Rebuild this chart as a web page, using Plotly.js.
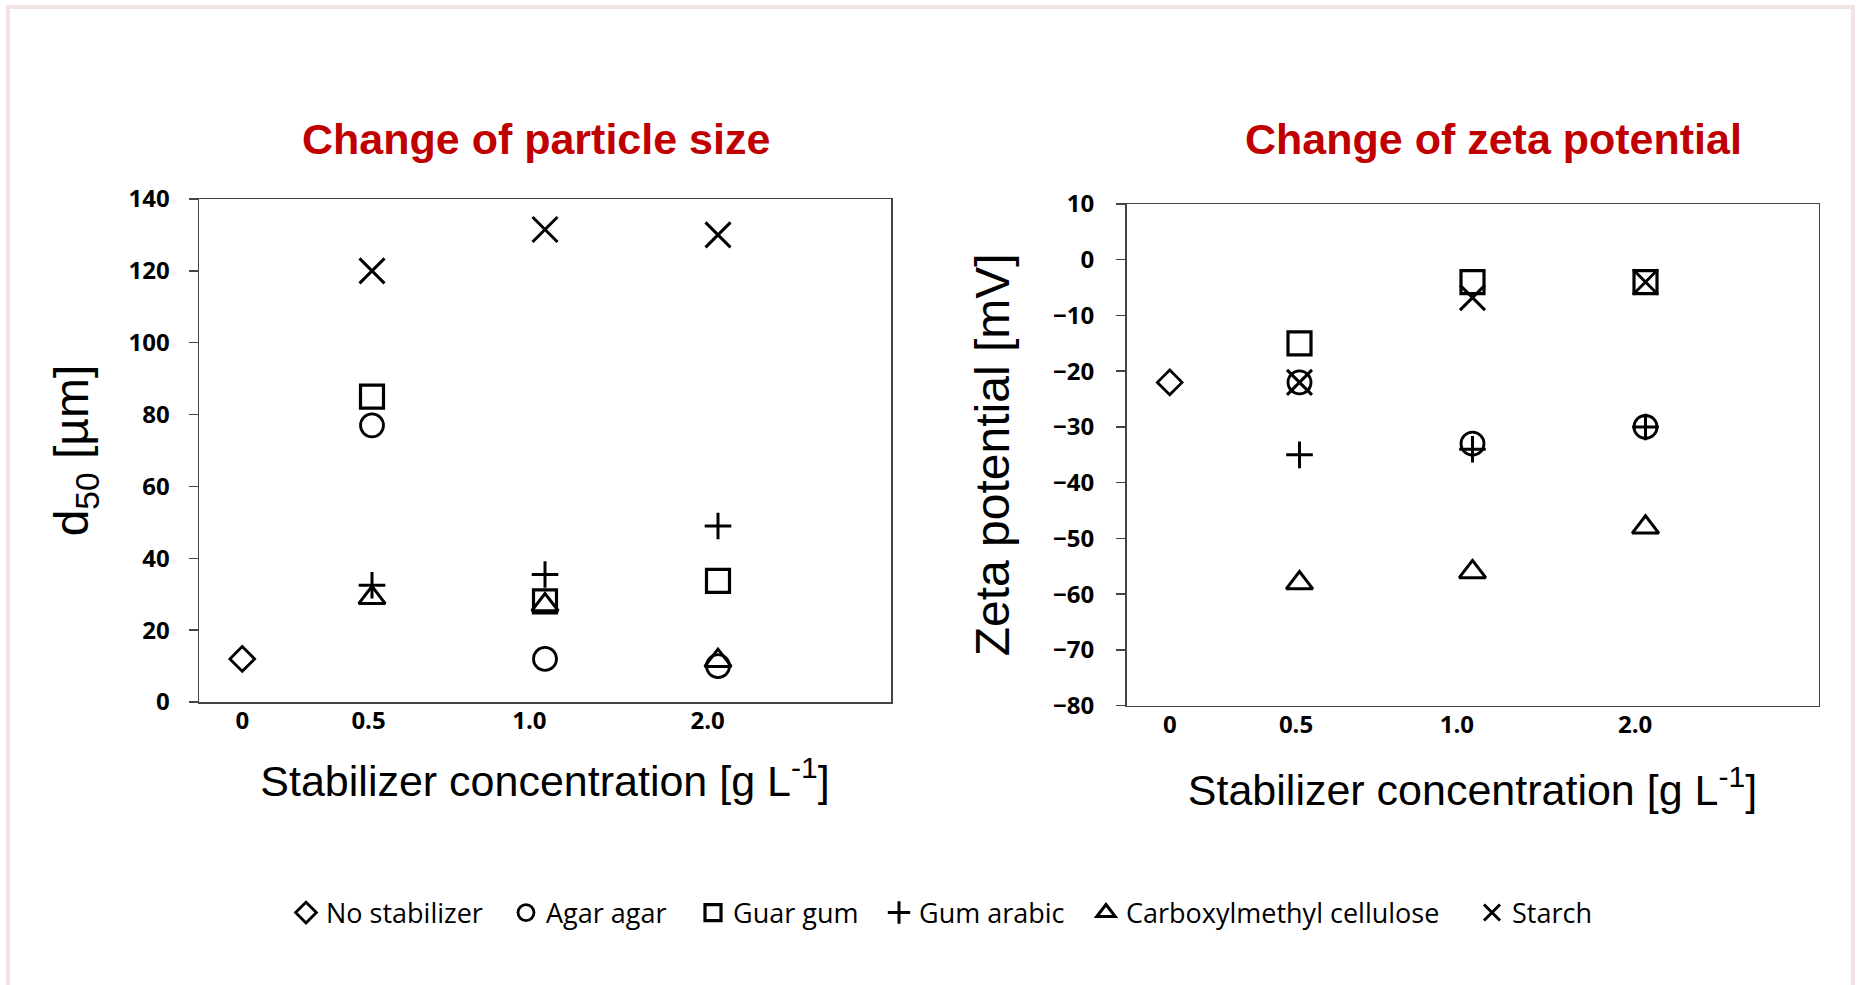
<!DOCTYPE html>
<html>
<head>
<meta charset="utf-8">
<script src="https://cdn.plot.ly/plotly-3.0.1.min.js"></script>
<style>
  html, body { margin: 0; padding: 0; background: #ffffff; }
  #chart { width: 1860px; height: 985px; }
</style>
</head>
<body>
<div id="chart"></div>
<script>
// ---- data ----
const concentrations = ["0", "0.5", "1.0", "2.0"];
const seriesNames = ["No stabilizer", "Agar agar", "Guar gum", "Gum arabic", "Carboxylmethyl cellulose", "Starch"];

// d50 [µm]
const d50NoStabilizer = [12, null, null, null];
const d50AgarAgar     = [null, 77, 12, 10];
const d50GuarGum      = [null, 85, 28, 33.7];
const d50GumArabic    = [null, 32.5, 35.5, 49];
const d50CMC          = [null, 29, 27, 11.5];
const d50Starch       = [null, 120, 131.5, 130];

// Zeta potential [mV]
const zetaNoStabilizer = [-22, null, null, null];
const zetaAgarAgar     = [null, -22, -33, -30];
const zetaGuarGum      = [null, -15, -4, -4];
const zetaGumArabic    = [null, -35, -34, -30];
const zetaCMC          = [null, -58, -56, -48];
const zetaStarch       = [null, -22, -6.8, -4];

const yTicksD50 = [0, 20, 40, 60, 80, 100, 120, 140];
const yTicksZeta = [-80, -70, -60, -50, -40, -30, -20, -10, 0, 10];

// ---- layout helpers (axis slots, styles) ----
const slotOf = {"0": 0.25, "0.5": 1, "1.0": 2, "2.0": 3};
const labelSlot = {"0": 0.25, "0.5": 0.98, "1.0": 1.91, "2.0": 2.94};
const xVals = concentrations.map(c => slotOf[c]);

const styles = [
  {symbol: "diamond-open", size: 19, lw: 2.8},
  {symbol: "circle-open", size: 23, lw: 2.8},
  {symbol: "square-open", size: 23, lw: 3.2},
  {symbol: "cross-thin-open", size: 19, lw: 3},
  {symbol: "triangle-up-open", size: 23, lw: 3},
  {symbol: "x-thin-open", size: 25, lw: 3}
];

// legend entry positions (left edge of each entry, px) to spread the row like the original
const legendLeft = [286, 506, 693, 879, 1086, 1472];

const d50Series = [d50NoStabilizer, d50AgarAgar, d50GuarGum, d50GumArabic, d50CMC, d50Starch];
const zetaSeries = [zetaNoStabilizer, zetaAgarAgar, zetaGuarGum, zetaGumArabic, zetaCMC, zetaStarch];

const W = 1860, H = 985;
const px = v => v / W;
const py = v => 1 - v / H;

const traces = [];
seriesNames.forEach((name, i) => {
  const st = styles[i];
  const legendId = i === 0 ? "legend" : "legend" + (i + 1);
  const marker = {symbol: st.symbol, size: st.size, color: "#000000",
                  line: {color: "#000000", width: st.lw}};
  traces.push({type: "scatter", mode: "markers", name: name, legendgroup: name, legend: legendId,
               x: xVals, y: d50Series[i], xaxis: "x", yaxis: "y",
               marker: marker, showlegend: true, cliponaxis: false});
  traces.push({type: "scatter", mode: "markers", name: name, legendgroup: name, legend: legendId,
               x: xVals, y: zetaSeries[i], xaxis: "x2", yaxis: "y2",
               marker: marker, showlegend: false, cliponaxis: false});
});

const tickFont = {family: "Open Sans, Noto Sans, sans-serif", size: 24, color: "#000000", weight: 700};
const titleFontFamily = "Liberation Sans, Arial, sans-serif";

const xTickVals = concentrations.map(c => labelSlot[c]);

function xAxis(domain, standoff) {
  return {
    domain: domain, range: [0, 4], showgrid: false, zeroline: false,
    showline: true, mirror: true, linecolor: "#444444", linewidth: 1.5,
    ticks: "", tickmode: "array", tickvals: xTickVals, ticktext: concentrations,
    tickfont: tickFont, ticklabelstandoff: -3,
    title: {text: "Stabilizer concentration [g L<sup>-1</sup>]",
            font: {family: titleFontFamily, size: 43, color: "#000000"}, standoff: standoff},
    fixedrange: true
  };
}

const layout = {
  width: W, height: H,
  margin: {l: 0, r: 0, t: 0, b: 0, pad: 0},
  paper_bgcolor: "#ffffff", plot_bgcolor: "#ffffff",
  font: {family: "Open Sans, sans-serif", color: "#000000"},
  showlegend: true,
  xaxis: Object.assign(xAxis([px(199), px(891)], 30), {anchor: "y"}),
  yaxis: {
    domain: [py(702), py(199)], range: [0, 140], anchor: "x",
    showgrid: false, zeroline: false, showline: true, mirror: true,
    linecolor: "#444444", linewidth: 1.5,
    ticks: "outside", ticklen: 9, tickwidth: 1.5, tickcolor: "#444444",
    tickmode: "array", tickvals: yTicksD50, tickfont: tickFont, ticklabelstandoff: 14,
    title: {text: "d<sub>50</sub> [µm]", font: {family: titleFontFamily, size: 48, color: "#000000"}, standoff: 24},
    fixedrange: true
  },
  xaxis2: Object.assign(xAxis([px(1126.5), px(1818.5)], 36), {anchor: "y2"}),
  yaxis2: {
    domain: [py(705.7), py(204)], range: [-80, 10], anchor: "x2",
    showgrid: false, zeroline: false, showline: true, mirror: true,
    linecolor: "#444444", linewidth: 1.5,
    ticks: "outside", ticklen: 9, tickwidth: 1.5, tickcolor: "#444444",
    tickmode: "array", tickvals: yTicksZeta, tickfont: tickFont, ticklabelstandoff: 17,
    title: {text: "Zeta potential [mV]", font: {family: titleFontFamily, size: 48, color: "#000000"}, standoff: 28},
    fixedrange: true
  },
  annotations: [
    {text: "Change of particle size", xref: "paper", yref: "paper", x: px(536), y: py(139),
     xanchor: "center", yanchor: "middle", showarrow: false,
     font: {family: titleFontFamily, size: 43, color: "#C00000", weight: 700}},
    {text: "Change of zeta potential", xref: "paper", yref: "paper", x: px(1493.5), y: py(139),
     xanchor: "center", yanchor: "middle", showarrow: false,
     font: {family: titleFontFamily, size: 43, color: "#C00000", weight: 700}}
  ],
  shapes: [
    {type: "rect", xref: "paper", yref: "paper", x0: px(8), x1: px(1853), y0: py(1000), y1: py(7),
     line: {color: "#f3e2e2", width: 4}, fillcolor: "rgba(0,0,0,0)", layer: "below"}
  ]
};

seriesNames.forEach((name, i) => {
  const legendId = i === 0 ? "legend" : "legend" + (i + 1);
  layout[legendId] = {
    orientation: "h", x: px(legendLeft[i]), xanchor: "left", y: py(913), yanchor: "middle",
    font: {family: "Open Sans, sans-serif", size: 27, color: "#000000"},
    bgcolor: "rgba(0,0,0,0)", borderwidth: 0, itemwidth: 30,
    itemclick: false, itemdoubleclick: false
  };
});

Plotly.newPlot("chart", traces, layout, {staticPlot: true, displayModeBar: false});
</script>
</body>
</html>
